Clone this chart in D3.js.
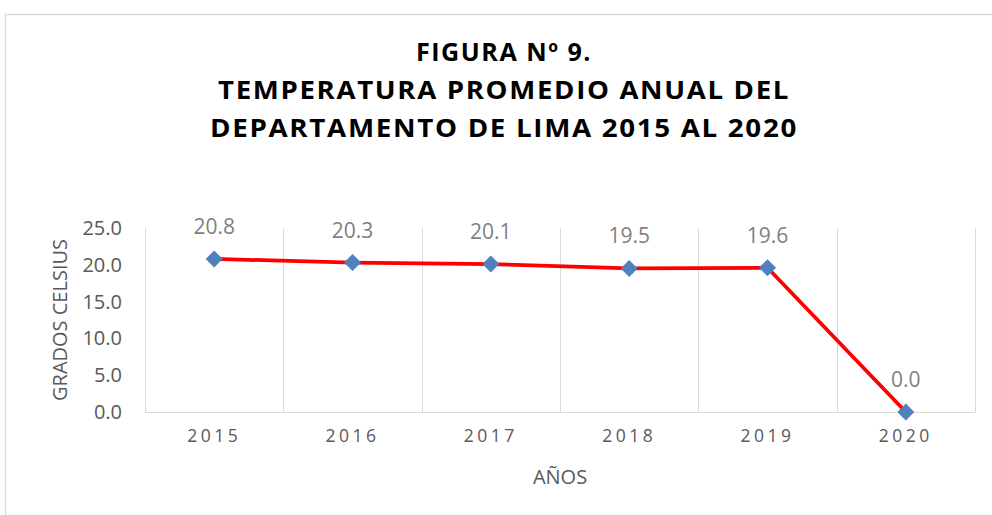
<!DOCTYPE html>
<html>
<head>
<meta charset="utf-8">
<script src="https://cdn.jsdelivr.net/npm/d3@7"></script>
<style>
  body { margin: 0; background: #fff; }
  svg { display: block; }
</style>
</head>
<body>
<div id="chart"></div>
<script>
// data
var years = ["2015", "2016", "2017", "2018", "2019", "2020"];
var temps = [20.8, 20.3, 20.1, 19.5, 19.6, 0.0];
var yTicks = [0, 5, 10, 15, 20, 25];
var titleLines = ["FIGURA Nº 9.", "TEMPERATURA PROMEDIO ANUAL DEL", "DEPARTAMENTO DE LIMA 2015 AL 2020"];

var width = 992, height = 515;
const margin = {top: 228, right: 17, bottom: 103, left: 145};
var innerW = width - margin.left - margin.right;
var innerH = height - margin.top - margin.bottom;
var font = "'Open Sans', sans-serif";

var svg = d3.select("#chart").append("svg")
    .attr("width", width)
    .attr("height", height);

// outer chart frame (runs off the page on right/bottom)
svg.append("rect")
    .attr("x", 5.5).attr("y", 14.5)
    .attr("width", 1100).attr("height", 700)
    .attr("fill", "none")
    .attr("stroke", "#d9d9d9")
    .attr("stroke-width", 1.5);

// title
var titleX = 504;
var titleY = [61, 99, 137];
var titleW = [176, 572, 588];
svg.selectAll(".title")
    .data(titleLines)
    .enter().append("text")
    .attr("class", "title")
    .attr("x", titleX)
    .attr("y", (d, i) => titleY[i])
    .attr("text-anchor", "middle")
    .attr("textLength", (d, i) => titleW[i])
    .attr("lengthAdjust", "spacingAndGlyphs")
    .style("font-family", font)
    .style("font-weight", "bold")
    .style("font-size", "25px")
    .style("letter-spacing", "1.5px")
    .style("fill", "#000")
    .text(d => d);

const g = svg.append("g")
    .attr("transform", `translate(${margin.left},${margin.top})`);

var xScale = d3.scaleBand()
    .domain(years)
    .range([0, innerW]);

var yScale = d3.scaleLinear()
    .domain([0, 25])
    .range([innerH, 0]);

// vertical gridlines at category edges
var edges = years.map(y => xScale(y)).concat([innerW]);
g.selectAll(".vgrid")
    .data(edges)
    .enter().append("line")
    .attr("class", "vgrid")
    .attr("x1", d => Math.round(d) + 0.5)
    .attr("x2", d => Math.round(d) + 0.5)
    .attr("y1", 0)
    .attr("y2", innerH)
    .attr("stroke", "#d9d9d9")
    .attr("stroke-width", 1);

// bottom axis line
g.append("line")
    .attr("x1", 0).attr("x2", innerW)
    .attr("y1", innerH + 0.5).attr("y2", innerH + 0.5)
    .attr("stroke", "#d9d9d9");

// y axis labels
var yAxis = d3.axisLeft(yScale)
    .tickValues(yTicks)
    .tickFormat(d3.format(".1f"))
    .tickSize(0)
    .tickPadding(23);
var ya = g.append("g").call(yAxis);
ya.select(".domain").remove();
ya.selectAll("text")
    .style("font-family", font)
    .style("font-size", "20px")
    .style("fill", "#595959");

// x axis labels
var xAxis = d3.axisBottom(xScale).tickSize(0).tickPadding(18);
var xa = g.append("g")
    .attr("transform", `translate(0,${innerH})`)
    .call(xAxis);
xa.select(".domain").remove();
xa.selectAll("text")
    .style("font-family", font)
    .style("font-size", "17.5px")
    .style("letter-spacing", "3.5px")
    .style("fill", "#595959");

// axis titles
svg.append("text")
    .attr("x", margin.left + innerW / 2)
    .attr("y", 484)
    .attr("text-anchor", "middle")
    .style("font-family", font)
    .style("font-size", "20px")
    .style("fill", "#595959")
    .text("AÑOS");

svg.append("text")
    .attr("transform", `translate(67,${margin.top + innerH / 2}) rotate(-90)`)
    .attr("text-anchor", "middle")
    .style("font-family", font)
    .style("font-size", "20px")
    .style("fill", "#595959")
    .text("GRADOS CELSIUS");

// series line
var pts = years.map((y, i) => ({year: y, val: temps[i]}));
var line = d3.line()
    .x(d => xScale(d.year) + xScale.bandwidth() / 2)
    .y(d => yScale(d.val));

g.append("path")
    .datum(pts)
    .attr("d", line)
    .attr("fill", "none")
    .attr("stroke", "#ff0000")
    .attr("stroke-width", 3.75)
    .attr("stroke-linejoin", "round");

// diamond markers
g.selectAll(".marker")
    .data(pts)
    .enter().append("rect")
    .attr("class", "marker")
    .attr("x", -6).attr("y", -6)
    .attr("width", 12).attr("height", 12)
    .attr("transform", d => `translate(${xScale(d.year) + xScale.bandwidth() / 2},${yScale(d.val)}) rotate(45)`)
    .attr("fill", "#4f81bd");

// data labels
g.selectAll(".lbl")
    .data(pts)
    .enter().append("text")
    .attr("class", "lbl")
    .attr("x", d => xScale(d.year) + xScale.bandwidth() / 2)
    .attr("y", d => yScale(d.val) - 25)
    .attr("text-anchor", "middle")
    .style("font-family", font)
    .style("font-size", "21px")
    .style("fill", "#7f7f7f")
    .text(d => d3.format(".1f")(d.val));
</script>
</body>
</html>
